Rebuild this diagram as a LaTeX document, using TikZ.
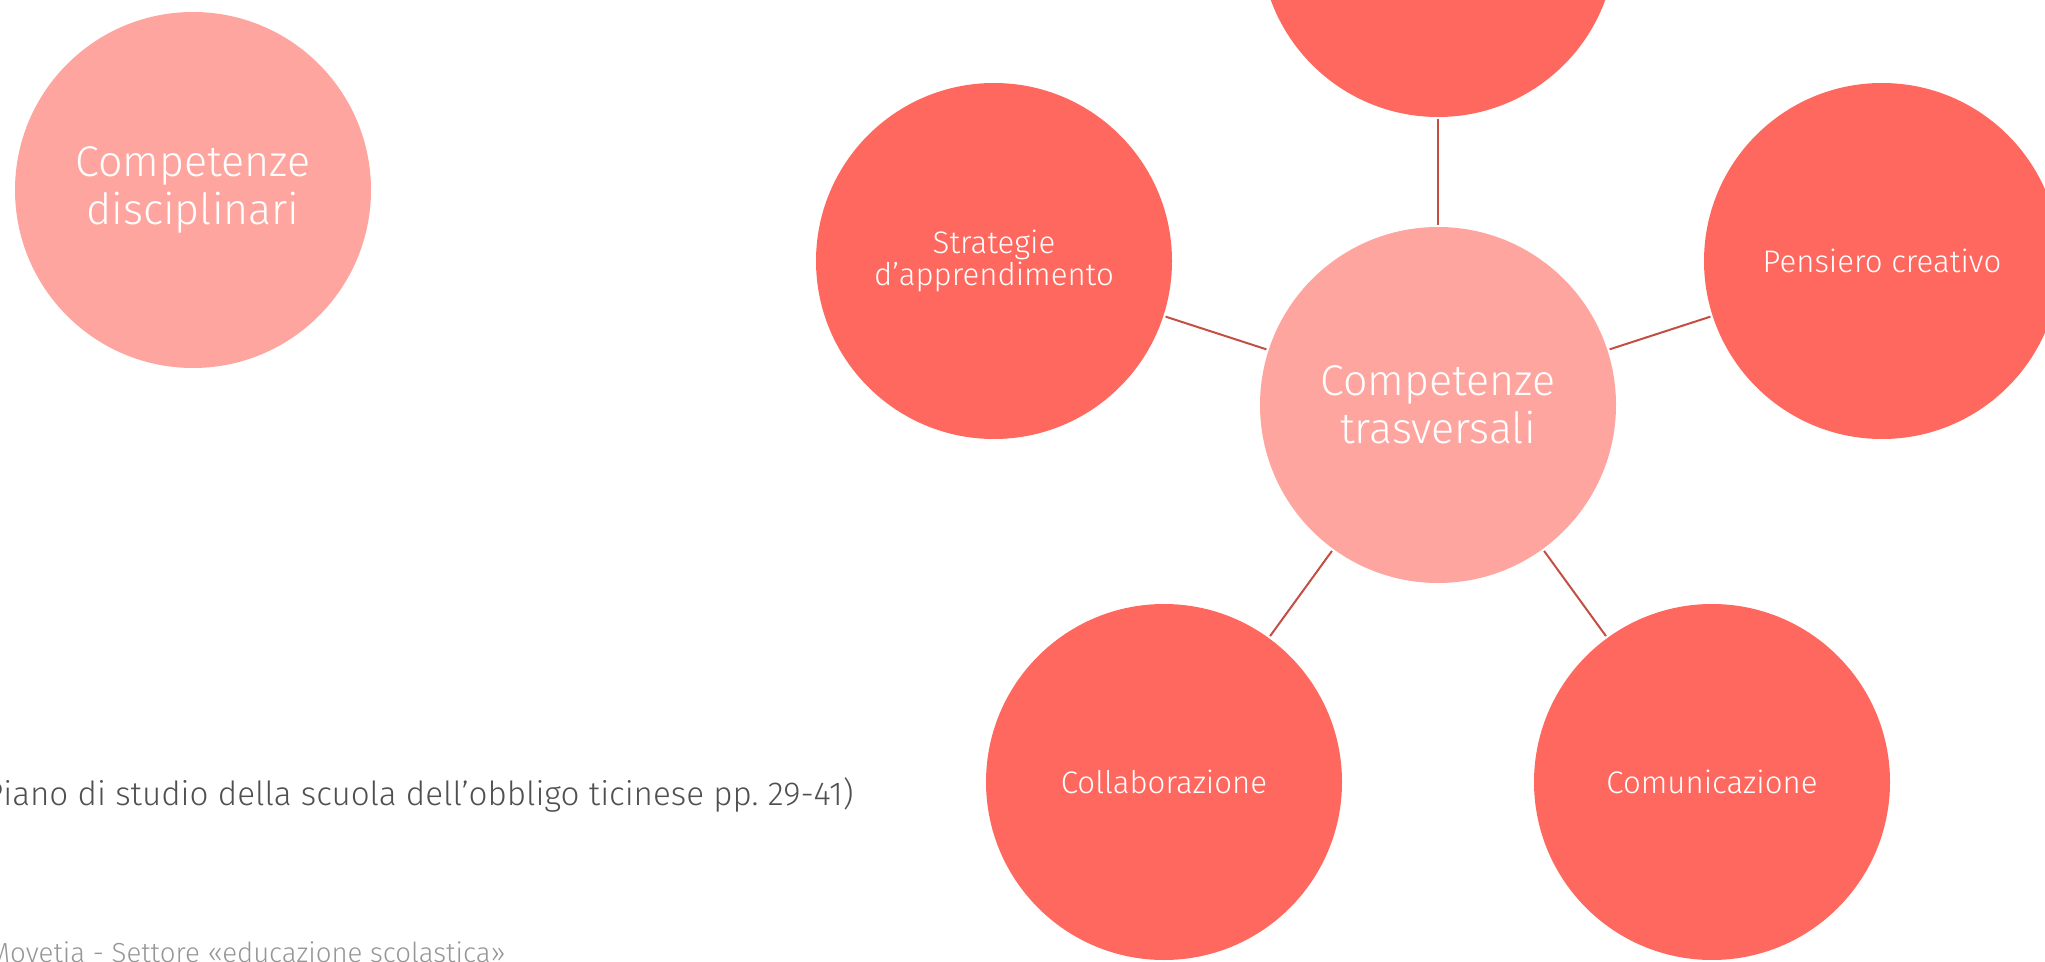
\documentclass[tikz,border=0pt]{standalone}
\usepackage{fontspec}
\setmainfont{Fira Sans Light}
\definecolor{darkc}{RGB}{255,104,94}
\definecolor{lightc}{RGB}{255,165,160}
\definecolor{linec}{RGB}{196,78,68}
\definecolor{greytext}{RGB}{80,80,80}
\definecolor{lighttext}{RGB}{150,150,150}
\begin{document}
\begin{tikzpicture}[x=0.5pt,y=-0.5pt,
  bubble/.style={circle,inner sep=0pt,minimum size=178pt,text=white,align=center},
  outer/.style={bubble,fill=darkc,font=\fontsize{15.6}{16}\selectfont},
  inner/.style={bubble,fill=lightc,font=\fontsize{21.5}{24}\selectfont},
  link/.style={draw=linec,line width=1pt,shorten <=1pt,shorten >=1pt}]
\useasboundingbox (0,0) rectangle (2045,962);
\clip (0,0) rectangle (2045,962);
\node[inner] (disc) at (193,190) {Competenze\\disciplinari};
\node[inner] (c) at (1438,405) {Competenze\\trasversali};
\node[outer] (top) at (1438,-61) {};
\node[outer] (pens) at (1882,261) {Pensiero creativo};
\node[outer] (strat) at (994,261) {Strategie\\d’apprendimento};
\node[outer] (coll) at (1164,782) {Collaborazione};
\node[outer] (comu) at (1712,782) {Comunicazione};
\draw[link] (c) -- (top);
\draw[link] (c) -- (pens);
\draw[link] (c) -- (strat);
\draw[link] (c) -- (coll);
\draw[link] (c) -- (comu);
\node[anchor=base east,text=greytext,inner sep=0pt,font=\fontsize{16.6}{18}\selectfont] (src) at (854,805) {(Piano di studio della scuola dell’obbligo ticinese pp.~29-41)};
\node[anchor=base east,text=lighttext,inner sep=0pt,font=\fontsize{13.8}{15}\selectfont] (mov) at (506,962) {Movetia - Settore «educazione scolastica»};
\end{tikzpicture}
\end{document}
